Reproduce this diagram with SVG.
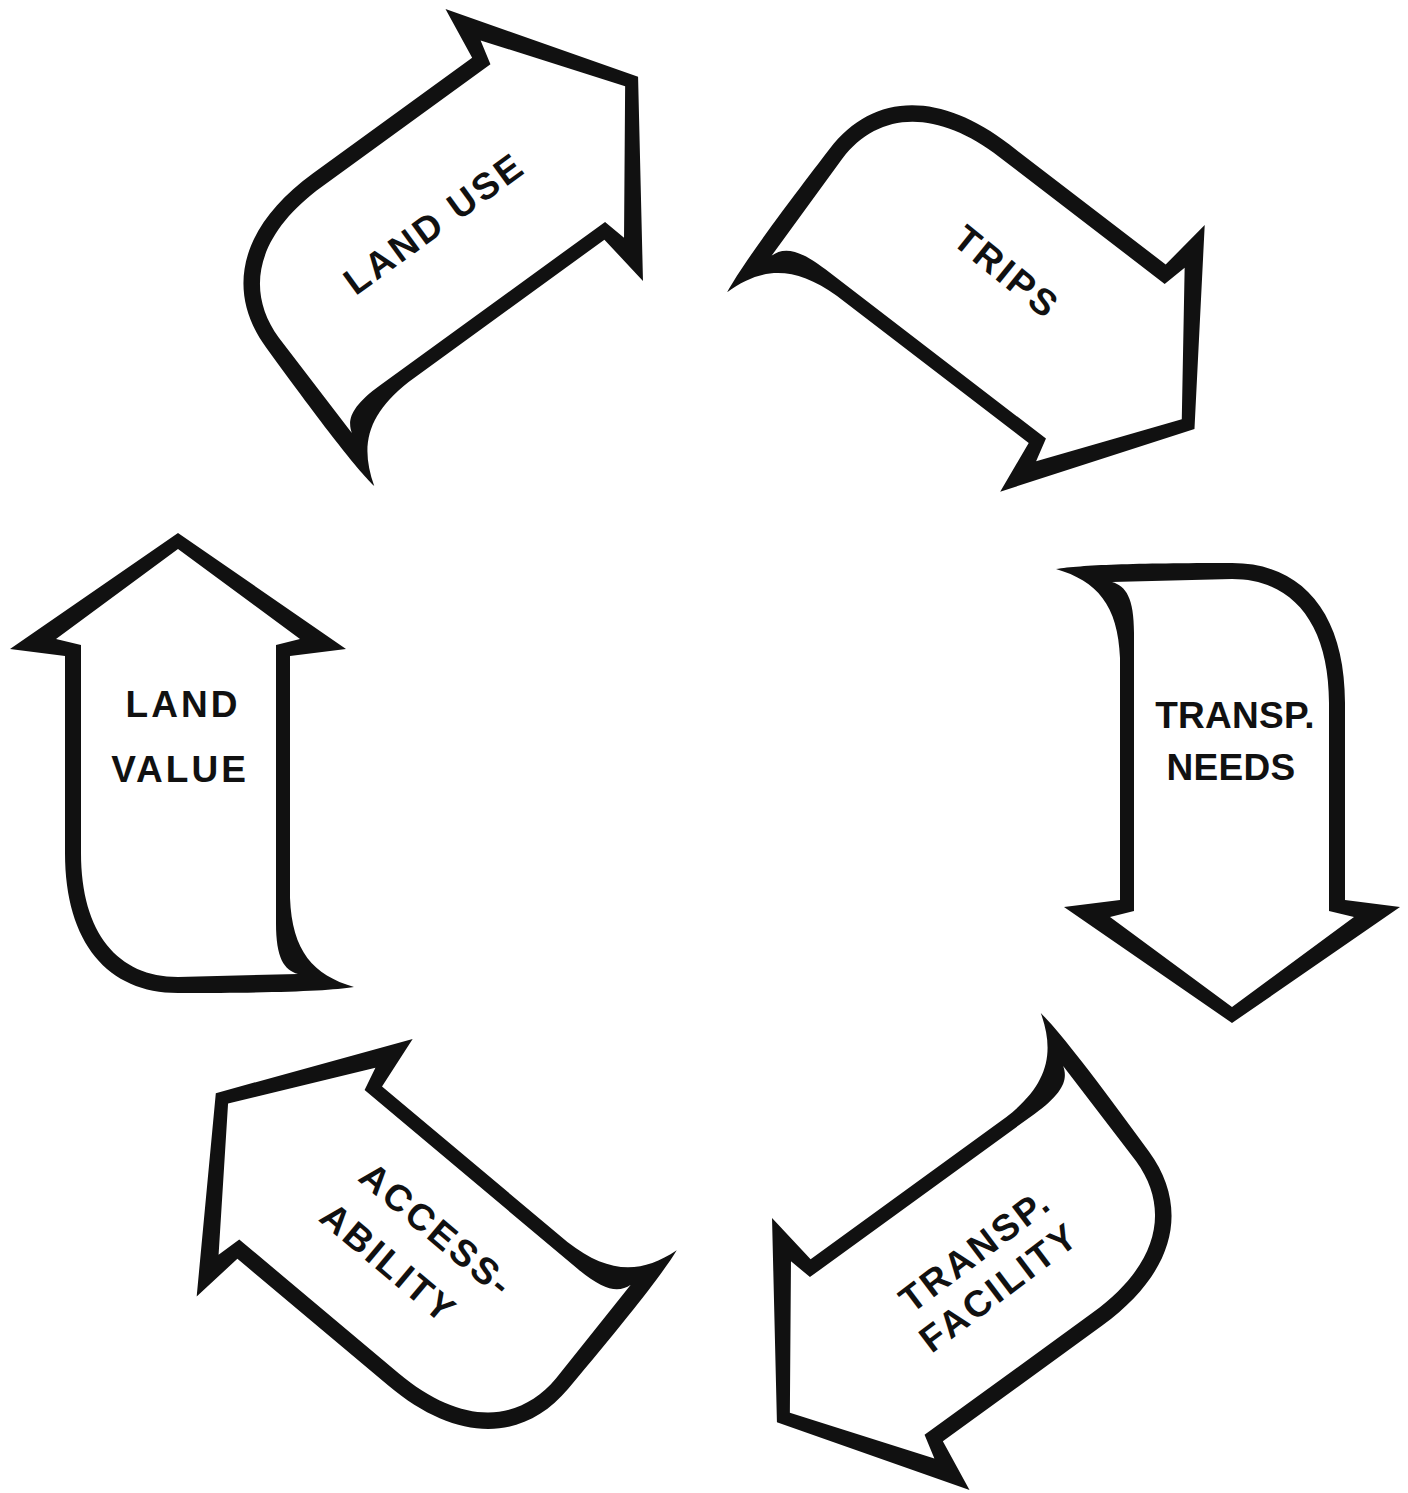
<svg xmlns="http://www.w3.org/2000/svg" width="1408" height="1493" viewBox="0 0 1408 1493">
<style>
.lbl{font-family:"Liberation Sans",Arial,sans-serif;font-weight:bold;font-size:37px;letter-spacing:3px;fill:#111;text-anchor:middle}
.tight{letter-spacing:0.3px}
</style>
<defs>
<g id="arrow">
<path fill="#111" d="M0,-230 L168,-114 L112,-107 L112,135 C114,188 135,212 176,224 C150,228 100,230 0,230 C-70,230 -113,180 -113,90 L-113,-107 L-168,-114 Z"/>
<path fill="#fff" d="M0,-214 L122,-124 L98,-118 L98,160 C98,195 106,207 120,211 L0,214 C-60,214 -97,170 -97,90 L-97,-118 L-122,-124 Z"/>
</g>
</defs>
<rect width="1408" height="1493" fill="#fff"/>
<g id="connectors"></g>
<g id="land-value">
<use href="#arrow" transform="translate(178,763)"/>
<text class="lbl" x="183" y="717">LAND</text>
<text class="lbl" x="180" y="782">VALUE</text>
</g>
<g id="land-use">
<use href="#arrow" transform="translate(452,212) rotate(54)"/>
<text class="lbl" transform="translate(434,223) rotate(-36)" y="13">LAND USE</text>
</g>
<g id="trips">
<use href="#arrow" transform="translate(1012,289) rotate(127.5)"/>
<text class="lbl" transform="translate(1007,272) rotate(39)" y="13">TRIPS</text>
</g>
<g id="transp-needs">
<use href="#arrow" transform="translate(1232,793) rotate(180)"/>
<text class="lbl tight" x="1235" y="728">TRANSP.</text>
<text class="lbl tight" x="1231" y="780">NEEDS</text>
</g>
<g id="transp-facility">
<use href="#arrow" transform="translate(963,1287) rotate(234)"/>
<text class="lbl" transform="translate(975,1250) rotate(-37)" y="13">TRANSP.</text>
<text class="lbl" transform="translate(999,1287) rotate(-37)" y="13">FACILITY</text>
</g>
<g id="accessability">
<use href="#arrow" transform="translate(392,1241) rotate(310)"/>
<text class="lbl" transform="translate(437,1230) rotate(40)" y="13">ACCESS-</text>
<text class="lbl" transform="translate(389,1263) rotate(40)" y="13">ABILITY</text>
</g>
</svg>
